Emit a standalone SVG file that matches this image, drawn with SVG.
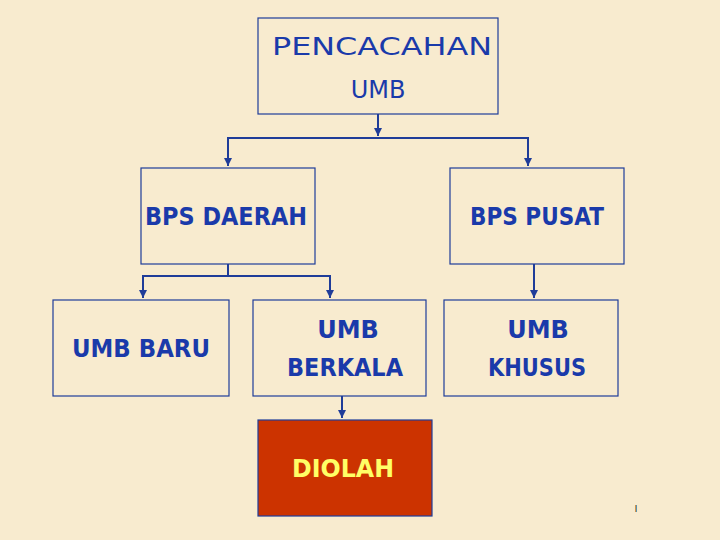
<svg xmlns="http://www.w3.org/2000/svg" width="720" height="540" viewBox="0 0 720 540">
<defs>
<marker id="ah" viewBox="0 0 10 10" refX="10" refY="5" markerWidth="4" markerHeight="4" orient="auto"><path d="M0,0 L10,5 L0,10 z" fill="#1f3c99"/></marker>
<style>
.box{fill:none;stroke:#1f3c99;stroke-width:1.2}
.t{font-family:"DejaVu Sans","Liberation Sans",sans-serif;font-size:24px;font-weight:bold;fill:#1a3aaa}
.c{fill:none;stroke:#1f3c99;stroke-width:2}
</style>
</defs>
<rect width="720" height="540" fill="#f8ebcf"/>
<g id="connectors">
<path class="c" d="M378,114 V136" marker-end="url(#ah)"/>
<path class="c" d="M228,166 V138 H528 V166" />
<path class="c" d="M228,138 V166" marker-end="url(#ah)"/>
<path class="c" d="M528,138 V166" marker-end="url(#ah)"/>
<path class="c" d="M228,264 V276 M143,298 V276 H330 V298"/>
<path class="c" d="M143,276 V298" marker-end="url(#ah)"/>
<path class="c" d="M330,276 V298" marker-end="url(#ah)"/>
<path class="c" d="M534,264 V298" marker-end="url(#ah)"/>
<path class="c" d="M342,396 V418" marker-end="url(#ah)"/>
</g>
<g id="pencacahan"><rect class="box" x="258" y="18" width="240" height="96"/>
<text class="t" x="382" y="55" text-anchor="middle" font-size="27" font-weight="normal" style="font-weight:normal" textLength="220" lengthAdjust="spacingAndGlyphs">PENCACAHAN</text>
<text class="t" x="378" y="98" text-anchor="middle" font-size="27" style="font-weight:normal">UMB</text></g>
<g id="bpsdaerah"><rect class="box" x="141" y="168" width="174" height="96"/>
<text class="t" x="145" y="225" textLength="162" lengthAdjust="spacingAndGlyphs">BPS DAERAH</text></g>
<g id="bpspusat"><rect class="box" x="450" y="168" width="174" height="96"/>
<text class="t" x="537" y="225" text-anchor="middle" textLength="134" lengthAdjust="spacingAndGlyphs">BPS PUSAT</text></g>
<g id="umbbaru"><rect class="box" x="53" y="300" width="176" height="96"/>
<text class="t" x="141" y="357" text-anchor="middle" textLength="138" lengthAdjust="spacingAndGlyphs">UMB BARU</text></g>
<g id="umbberkala"><rect class="box" x="253" y="300" width="173" height="96"/>
<text class="t" x="348" y="338" text-anchor="middle">UMB</text>
<text class="t" x="345" y="376" text-anchor="middle" textLength="116" lengthAdjust="spacingAndGlyphs">BERKALA</text></g>
<g id="umbkhusus"><rect class="box" x="444" y="300" width="174" height="96"/>
<text class="t" x="538" y="338" text-anchor="middle">UMB</text>
<text class="t" x="537" y="376" text-anchor="middle" textLength="98" lengthAdjust="spacingAndGlyphs">KHUSUS</text></g>
<g id="diolah"><rect x="258" y="420" width="174" height="96" fill="#cc3300" stroke="#1f3c99" stroke-width="1.2"/>
<text class="t" x="292" y="477" style="fill:#ffff66" textLength="102" lengthAdjust="spacingAndGlyphs">DIOLAH</text></g>
<text x="635" y="512" font-family="Liberation Sans,sans-serif" font-size="9" fill="#000">l</text>
</svg>
